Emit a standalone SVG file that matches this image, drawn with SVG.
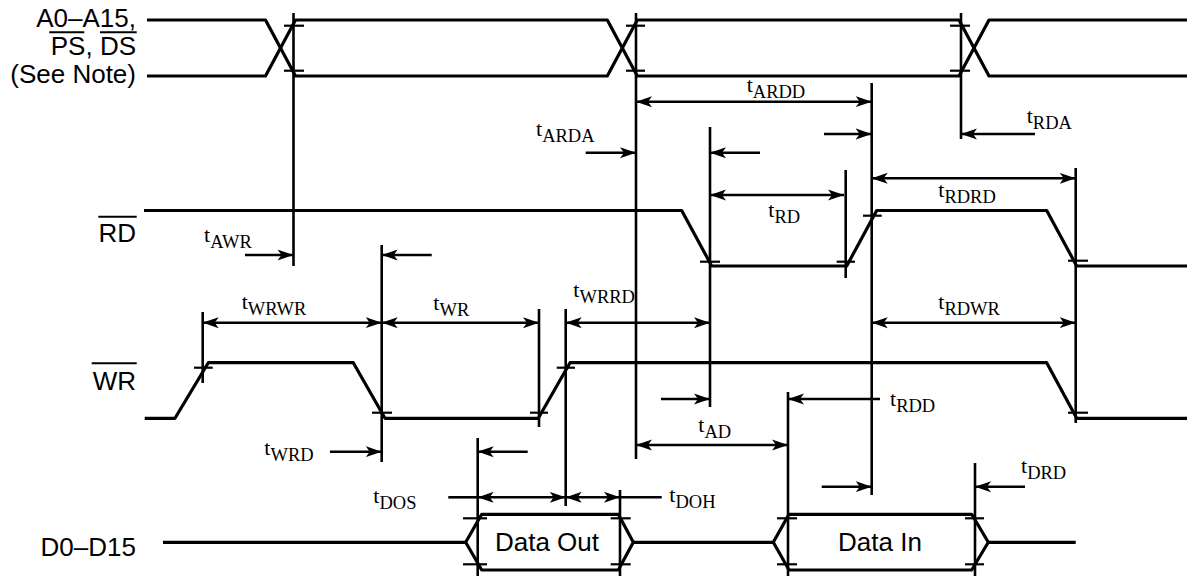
<svg xmlns="http://www.w3.org/2000/svg" width="1187" height="576" viewBox="0 0 1187 576">
<defs>
<style>
.sig{fill:none;stroke:#000;stroke-width:3.2;stroke-linejoin:round}
.v{stroke:#000;stroke-width:2.6;fill:none}
.tk{stroke:#000;stroke-width:2.2}
.ar{stroke:#000;stroke-width:2.6;fill:none}
.ov{stroke:#000;stroke-width:2}
.lbl{font-family:"Liberation Sans",Arial,sans-serif;font-size:26px;fill:#000}
.tl{font-family:"Liberation Serif","Times New Roman",serif;font-size:22px;fill:#000}
.sub{font-size:18.5px}
</style>
<marker id="ah" markerUnits="userSpaceOnUse" markerWidth="16" markerHeight="12" refX="16" refY="6" orient="auto-start-reverse" viewBox="0 0 16 12"><path d="M0,0.5 L16,6 L0,11.5 L4,6 Z" fill="#000"/></marker>
</defs>
<rect width="1187" height="576" fill="#fff"/>

<g id="addr">
<path class="sig" d="M147,20 H265.5 L295.5,76 H607.3 L637.3,20 H959 L989,76 H1187"/>
<path class="sig" d="M147,76 H265.5 L295.5,20 H607.3 L637.3,76 H959 L989,20 H1187"/>
<text class="lbl" x="136" y="26.5" text-anchor="end">A0–A15,</text>
<text class="lbl" x="136" y="55" text-anchor="end">PS, DS</text>
<line class="ov" x1="49.3" y1="32.3" x2="84.3" y2="32.3"/>
<line class="ov" x1="100" y1="32.3" x2="136.7" y2="32.3"/>
<text class="lbl" x="136" y="83" text-anchor="end">(See Note)</text>
</g>

<g id="rd">
<path class="sig" d="M144,210.5 H681.7 L711.7,266 H846.7 L876.7,210.5 H1046.7 L1076.7,266 H1187"/>
<text class="lbl" x="136" y="241.7" text-anchor="end">RD</text>
<line class="ov" x1="98.3" y1="216.7" x2="136.7" y2="216.7"/>
</g>

<g id="wr">
<path class="sig" d="M144.7,418.3 H175 L208.3,362.7 H353.3 L385,418.3 H538.3 L570,362.7 H1046.7 L1076.7,418.3 H1187"/>
<text class="lbl" x="136" y="390" text-anchor="end">WR</text>
<line class="ov" x1="91.7" y1="363.3" x2="136.7" y2="363.3"/>
</g>

<g id="data">
<path class="sig" d="M163,542.3 H465.7"/>
<path class="sig" d="M481.7,514.3 H618.3 L633.3,542.3 L618.3,570 H481.7 L465.7,542.3 Z"/>
<path class="sig" d="M633.3,542.3 H773.3"/>
<path class="sig" d="M789,514.3 H971.7 L988.3,542.3 L971.7,570 H789 L773.3,542.3 Z"/>
<path class="sig" d="M988.3,542.3 H1075.7"/>
<text class="lbl" x="547" y="551" text-anchor="middle">Data Out</text>
<text class="lbl" x="880" y="551" text-anchor="middle">Data In</text>
<text class="lbl" x="136" y="556" text-anchor="end">D0–D15</text>
</g>

<g id="connectors">
<g id="verticals">
<line class="v" x1="293.5" y1="13" x2="293.5" y2="266"/>
<line class="v" x1="636" y1="13" x2="636" y2="459"/>
<line class="v" x1="961" y1="13" x2="961" y2="139"/>
<line class="v" x1="871.7" y1="83" x2="871.7" y2="495"/>
<line class="v" x1="710" y1="127" x2="710" y2="407"/>
<line class="v" x1="845.7" y1="170" x2="845.7" y2="278"/>
<line class="v" x1="1075.7" y1="168" x2="1075.7" y2="423"/>
<line class="v" x1="202.7" y1="312" x2="202.7" y2="383"/>
<line class="v" x1="381.7" y1="245" x2="381.7" y2="462"/>
<line class="v" x1="539" y1="309" x2="539" y2="427"/>
<line class="v" x1="565.7" y1="309" x2="565.7" y2="506"/>
<line class="v" x1="477.7" y1="438" x2="477.7" y2="576"/>
<line class="v" x1="620" y1="490" x2="620" y2="576"/>
<line class="v" x1="788" y1="392" x2="788" y2="576"/>
<line class="v" x1="975" y1="463" x2="975" y2="576"/>
</g>
<g id="ticks">
<line class="tk" x1="284" y1="25.7" x2="304" y2="25.7"/>
<line class="tk" x1="284" y1="70.7" x2="304" y2="70.7"/>
<line class="tk" x1="626" y1="25.7" x2="645" y2="25.7"/>
<line class="tk" x1="626" y1="70.7" x2="645" y2="70.7"/>
<line class="tk" x1="950" y1="25.7" x2="970" y2="25.7"/>
<line class="tk" x1="950" y1="70.7" x2="970" y2="70.7"/>
<line class="tk" x1="700" y1="261.7" x2="720" y2="261.7"/>
<line class="tk" x1="836.7" y1="261.7" x2="855" y2="261.7"/>
<line class="tk" x1="863" y1="215.7" x2="881.7" y2="215.7"/>
<line class="tk" x1="1068" y1="260.7" x2="1088" y2="260.7"/>
<line class="tk" x1="194" y1="367.7" x2="212.7" y2="367.7"/>
<line class="tk" x1="372" y1="412.7" x2="392" y2="412.7"/>
<line class="tk" x1="530" y1="412.7" x2="548" y2="412.7"/>
<line class="tk" x1="556.7" y1="367.7" x2="575" y2="367.7"/>
<line class="tk" x1="1068" y1="412.7" x2="1088" y2="412.7"/>
<line class="tk" x1="463" y1="518.3" x2="487" y2="518.3"/>
<line class="tk" x1="463" y1="564.3" x2="487" y2="564.3"/>
<line class="tk" x1="610.7" y1="518.3" x2="630.7" y2="518.3"/>
<line class="tk" x1="610.7" y1="564.3" x2="630.7" y2="564.3"/>
<line class="tk" x1="777" y1="518.3" x2="797" y2="518.3"/>
<line class="tk" x1="777" y1="564.3" x2="797" y2="564.3"/>
<line class="tk" x1="965" y1="518.3" x2="984" y2="518.3"/>
<line class="tk" x1="965" y1="564.3" x2="984" y2="564.3"/>
</g>
<g id="arrows">
<line class="ar" x1="636" y1="101.7" x2="871.7" y2="101.7" marker-start="url(#ah)" marker-end="url(#ah)"/>
<line class="ar" x1="585.7" y1="152.7" x2="636" y2="152.7" marker-end="url(#ah)"/>
<line class="ar" x1="760" y1="152.7" x2="710" y2="152.7" marker-end="url(#ah)"/>
<line class="ar" x1="824" y1="134" x2="871.7" y2="134" marker-end="url(#ah)"/>
<line class="ar" x1="1035" y1="134" x2="961" y2="134" marker-end="url(#ah)"/>
<line class="ar" x1="871.7" y1="178.3" x2="1075.7" y2="178.3" marker-start="url(#ah)" marker-end="url(#ah)"/>
<line class="ar" x1="710" y1="195" x2="844" y2="195" marker-start="url(#ah)" marker-end="url(#ah)"/>
<line class="ar" x1="245" y1="255" x2="293.5" y2="255" marker-end="url(#ah)"/>
<line class="ar" x1="431.7" y1="255" x2="381.7" y2="255" marker-end="url(#ah)"/>
<line class="ar" x1="202.7" y1="322.7" x2="381.7" y2="322.7" marker-start="url(#ah)" marker-end="url(#ah)"/>
<line class="ar" x1="381.7" y1="322.7" x2="539" y2="322.7" marker-start="url(#ah)" marker-end="url(#ah)"/>
<line class="ar" x1="565.7" y1="322.7" x2="710" y2="322.7" marker-start="url(#ah)" marker-end="url(#ah)"/>
<line class="ar" x1="871.7" y1="322.7" x2="1075.7" y2="322.7" marker-start="url(#ah)" marker-end="url(#ah)"/>
<line class="ar" x1="880" y1="399" x2="788" y2="399" marker-end="url(#ah)"/>
<line class="ar" x1="661" y1="399" x2="710" y2="399" marker-end="url(#ah)"/>
<line class="ar" x1="636" y1="445" x2="788" y2="445" marker-start="url(#ah)" marker-end="url(#ah)"/>
<line class="ar" x1="330" y1="451.7" x2="381.7" y2="451.7" marker-end="url(#ah)"/>
<line class="ar" x1="527.7" y1="451.7" x2="477.7" y2="451.7" marker-end="url(#ah)"/>
<line class="ar" x1="448.3" y1="497.3" x2="477.7" y2="497.3"/>
<line class="ar" x1="477.7" y1="497.3" x2="565.7" y2="497.3" marker-start="url(#ah)" marker-end="url(#ah)"/>
<line class="ar" x1="565.7" y1="497.3" x2="620" y2="497.3" marker-start="url(#ah)" marker-end="url(#ah)"/>
<line class="ar" x1="620" y1="497.3" x2="661.7" y2="497.3"/>
<line class="ar" x1="821.7" y1="486.7" x2="871.7" y2="486.7" marker-end="url(#ah)"/>
<line class="ar" x1="1025" y1="486.7" x2="975" y2="486.7" marker-end="url(#ah)"/>
</g>
</g>

<g id="timing-labels">
<text class="tl" x="746.7" y="91.7">t<tspan class="sub" dy="6">ARDD</tspan></text>
<text class="tl" x="536" y="136">t<tspan class="sub" dy="6">ARDA</tspan></text>
<text class="tl" x="1026.7" y="123.3">t<tspan class="sub" dy="6">RDA</tspan></text>
<text class="tl" x="938.3" y="197">t<tspan class="sub" dy="6">RDRD</tspan></text>
<text class="tl" x="768.3" y="216.7">t<tspan class="sub" dy="6">RD</tspan></text>
<text class="tl" x="204" y="241.7">t<tspan class="sub" dy="6">AWR</tspan></text>
<text class="tl" x="241.7" y="309">t<tspan class="sub" dy="6">WRWR</tspan></text>
<text class="tl" x="433.3" y="310">t<tspan class="sub" dy="6">WR</tspan></text>
<text class="tl" x="573.3" y="297">t<tspan class="sub" dy="6">WRRD</tspan></text>
<text class="tl" x="938.3" y="309">t<tspan class="sub" dy="6">RDWR</tspan></text>
<text class="tl" x="264.3" y="455">t<tspan class="sub" dy="6">WRD</tspan></text>
<text class="tl" x="698.3" y="431.7">t<tspan class="sub" dy="6">AD</tspan></text>
<text class="tl" x="890" y="406">t<tspan class="sub" dy="6">RDD</tspan></text>
<text class="tl" x="373.3" y="503.3">t<tspan class="sub" dy="6">DOS</tspan></text>
<text class="tl" x="669.3" y="501.7">t<tspan class="sub" dy="6">DOH</tspan></text>
<text class="tl" x="1021" y="473.3">t<tspan class="sub" dy="6">DRD</tspan></text>
</g>
</svg>
